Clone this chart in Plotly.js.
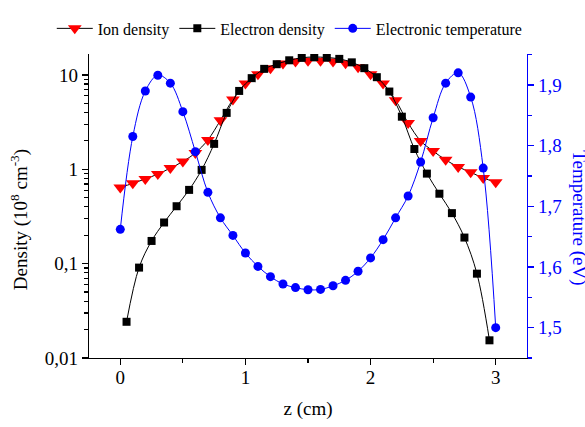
<!DOCTYPE html>
<html>
<head>
<meta charset="utf-8">
<script src="https://cdn.plot.ly/plotly-3.0.1.min.js"></script>
<style>
  html, body { margin: 0; padding: 0; background: #fff; }
  #chart { width: 585px; height: 427px; }
</style>
</head>
<body>
<div id="chart"></div>
<script>
// Axial profiles along z (cm)
const zIon = [0.0, 0.1, 0.2, 0.3, 0.4, 0.5, 0.6, 0.7, 0.8, 0.9, 1.0,
              1.1, 1.2, 1.3, 1.4, 1.5, 1.6, 1.7, 1.8, 1.9, 2.0,
              2.1, 2.2, 2.3, 2.4, 2.5, 2.6, 2.7, 2.8, 2.9, 3.0];
const ionDensity = [0.64, 0.71, 0.79, 0.89, 1.03, 1.21, 1.49, 2.05, 3.3, 5.5, 8.1,
                    10.2, 11.8, 13.2, 13.9, 14.1, 14.1, 13.9, 13.3, 12.1, 10.2,
                    8.1, 5.4, 3.1, 2.0, 1.56, 1.26, 1.06, 0.93, 0.81, 0.73];

const zElectron = [0.05, 0.15, 0.25, 0.35, 0.45, 0.55, 0.65, 0.75, 0.85, 0.95,
                   1.05, 1.15, 1.25, 1.35, 1.45, 1.55, 1.65, 1.75, 1.85, 1.95,
                   2.05, 2.15, 2.25, 2.35, 2.45, 2.55, 2.65, 2.75, 2.85, 2.95];
const electronDensity = [0.0242, 0.0908, 0.174, 0.273, 0.406, 0.605, 0.986, 1.86, 3.96, 6.77,
                         9.25, 11.6, 13.0, 14.3, 15.2, 15.5, 15.3, 14.8, 13.6, 11.8,
                         9.47, 6.67, 3.61, 1.64, 0.90, 0.551, 0.343, 0.189, 0.0783, 0.0154];

const zTemp = [0.0, 0.1, 0.2, 0.3, 0.4, 0.5, 0.6, 0.7, 0.8, 0.9, 1.0,
               1.1, 1.2, 1.3, 1.4, 1.5, 1.6, 1.7, 1.8, 1.9, 2.0,
               2.1, 2.2, 2.3, 2.4, 2.5, 2.6, 2.7, 2.8, 2.9, 3.0];
const electronTemp = [1.662, 1.815, 1.890, 1.916, 1.903, 1.856, 1.790, 1.723, 1.681, 1.652, 1.623,
                      1.601, 1.584, 1.572, 1.566, 1.5625, 1.563, 1.569, 1.578, 1.593, 1.615,
                      1.645, 1.681, 1.717, 1.773, 1.846, 1.903, 1.920, 1.880, 1.763, 1.500];

// Tick labels use a comma as the decimal separator (layout.separators)
const FONT = 'Liberation Serif, Times New Roman, serif';
const BLUE = '#0000ff';

const traces = [
  {
    x: zIon, y: ionDensity, name: 'Ion density', type: 'scatter', mode: 'lines+markers',
    line: { color: '#000', width: 1, shape: 'spline', smoothing: 1 },
    marker: { symbol: 'triangle-down', size: 12, color: '#ff0000', line: { width: 0 } },
    yaxis: 'y'
  },
  {
    x: zElectron, y: electronDensity, name: 'Electron density', type: 'scatter', mode: 'lines+markers',
    line: { color: '#000', width: 1, shape: 'spline', smoothing: 1 },
    marker: { symbol: 'square', size: 8, color: '#000', line: { width: 0 } },
    yaxis: 'y'
  },
  {
    x: zTemp, y: electronTemp, name: 'Electronic temperature', type: 'scatter', mode: 'lines+markers',
    line: { color: BLUE, width: 1, shape: 'spline', smoothing: 1 },
    marker: { symbol: 'circle', size: 9, color: BLUE, line: { width: 0 } },
    yaxis: 'y2'
  }
];

const layout = {
  width: 585, height: 427,
  margin: { l: 89, r: 58, t: 35, b: 69, pad: 0 },
  paper_bgcolor: '#fff', plot_bgcolor: '#fff',
  separators: ', ',
  font: { family: FONT, size: 19, color: '#000' },
  showlegend: true,
  legend: {
    orientation: 'h', x: -0.085, xanchor: 'left', y: 1.084, yanchor: 'middle',
    font: { family: FONT, size: 16, color: '#000' },
    bgcolor: 'rgba(0,0,0,0)', borderwidth: 0, itemwidth: 36, traceorder: 'normal'
  },
  xaxis: {
    range: [-0.25, 3.25], showgrid: false, zeroline: false,
    showline: true, linecolor: '#000', linewidth: 1.2,
    tickmode: 'linear', tick0: 0, dtick: 1,
    ticks: 'outside', ticklen: 6, tickwidth: 1.2, tickcolor: '#000',
    ticklabelstandoff: -4,
    minor: { tickmode: 'linear', tick0: 0, dtick: 0.5, ticks: 'outside', ticklen: 4, tickwidth: 1.2, tickcolor: '#000', showgrid: false },
    tickfont: { family: FONT, size: 19, color: '#000' },
    title: { text: 'z (cm)', font: { family: FONT, size: 19, color: '#000' }, standoff: 14 }
  },
  yaxis: {
    type: 'log', range: [-2, 1.222], showgrid: false, zeroline: false,
    showline: true, linecolor: '#000', linewidth: 1.2,
    tickmode: 'linear', tick0: 0, dtick: 1,
    ticks: 'outside', ticklen: 6, tickwidth: 1.2, tickcolor: '#000',
    minor: { dtick: 'D1', ticks: 'outside', ticklen: 4, tickwidth: 1.2, tickcolor: '#000', showgrid: false },
    tickfont: { family: FONT, size: 19, color: '#000' }
  },
  yaxis2: {
    overlaying: 'y', side: 'right', range: [1.45, 1.951],
    showgrid: false, zeroline: false,
    showline: true, linecolor: BLUE, linewidth: 1.2,
    tickmode: 'linear', tick0: 1.5, dtick: 0.1, tickformat: '.1f',
    ticks: 'outside', ticklen: 6, tickwidth: 1.2, tickcolor: BLUE,
    minor: { tickmode: 'linear', tick0: 1.45, dtick: 0.05, ticks: 'outside', ticklen: 4, tickwidth: 1.2, tickcolor: BLUE, showgrid: false },
    tickfont: { family: FONT, size: 19, color: BLUE }
  },
  annotations: [
    {
      xref: 'paper', yref: 'paper', x: -0.160, y: 0.4565, xanchor: 'center', yanchor: 'middle',
      text: 'Density (10<sup>8</sup> cm<sup>-3</sup>)', textangle: -90, showarrow: false,
      font: { family: FONT, size: 19, color: '#000' }
    },
    {
      xref: 'paper', yref: 'paper', x: 1.1187, y: 0.4596, xanchor: 'center', yanchor: 'middle',
      text: 'Temperature (eV)', textangle: 90, showarrow: false,
      font: { family: FONT, size: 19, color: BLUE }
    }
  ]
};

Plotly.newPlot('chart', traces, layout, { displayModeBar: false, staticPlot: true });
</script>
</body>
</html>
